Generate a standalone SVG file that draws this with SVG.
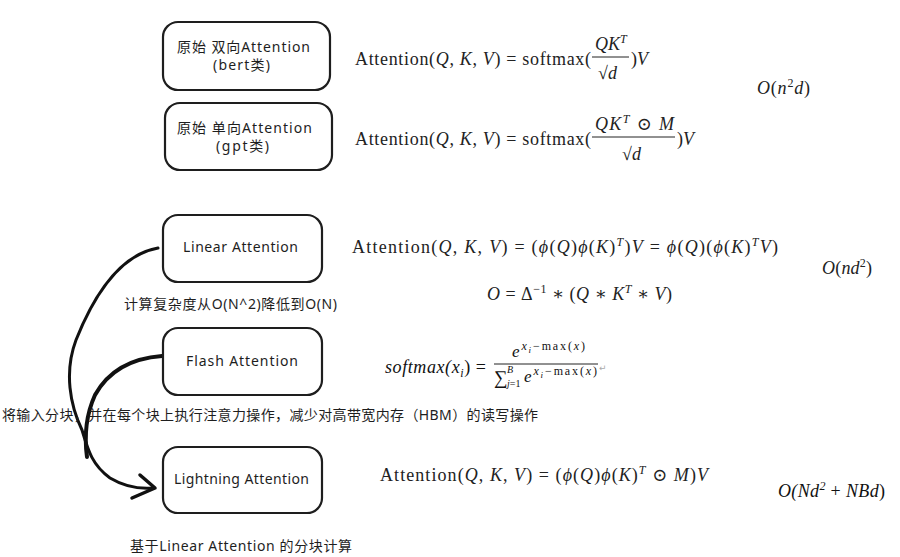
<svg xmlns="http://www.w3.org/2000/svg" width="900" height="557" viewBox="0 0 900 557">
<style>
.box{fill:#fff;stroke:#1e1e1e;stroke-width:2.2}
.lbl{font-family:"Noto Sans","Noto Sans CJK SC",sans-serif;font-size:14px;fill:#1e1e1e}
.note{font-family:"Noto Sans","Noto Sans CJK SC",sans-serif;font-size:14px;fill:#1e1e1e}
.m{font-family:"Liberation Serif","DejaVu Serif",serif;font-size:18px;fill:#222}
.i{font-style:italic}
.sup{font-size:12px}
.c{font-family:"Liberation Serif","DejaVu Serif",serif;fill:#111;font-style:italic}
.fl{stroke:#222;stroke-width:1}
.con{fill:none;stroke:#111;stroke-linecap:round;stroke-linejoin:round}
</style>
<rect width="900" height="557" fill="#fff"/>

<g id="connectors">
<path class="con" stroke-width="3" d="M158,248 C118,255 92,300 76,340 C64,372 70,405 82,430 C88,450 92,465 110,478 C125,487 140,489 153,488"/>
<path class="con" stroke-width="4" d="M162,356 C135,358 110,368 95,395 C86,415 84,435 87,457"/>
<path class="con" stroke-width="3.5" d="M140,475 L155,488 L132,498"/>
</g>

<g id="node-bert">
<rect class="box" x="163" y="22" width="167" height="68" rx="15"/>
<text class="lbl" x="177" y="52" textLength="133" lengthAdjust="spacing">原始 双向Attention</text>
<text class="lbl" x="213" y="70" textLength="57" lengthAdjust="spacing">(bert类)</text>
</g>
<g id="node-gpt">
<rect class="box" x="165" y="103" width="167" height="67" rx="15"/>
<text class="lbl" x="177" y="133" textLength="135" lengthAdjust="spacing">原始 单向Attention</text>
<text class="lbl" x="216" y="151" textLength="53" lengthAdjust="spacing">(gpt类)</text>
</g>
<g id="node-linear">
<rect class="box" x="163" y="215" width="159" height="67" rx="15"/>
<text class="lbl" x="183" y="252" textLength="115" lengthAdjust="spacing">Linear Attention</text>
</g>
<g id="node-flash">
<rect class="box" x="163" y="328" width="159" height="67" rx="15"/>
<text class="lbl" x="186" y="366" textLength="112" lengthAdjust="spacing">Flash Attention</text>
</g>
<g id="node-lightning">
<rect class="box" x="163" y="447" width="159" height="66" rx="15"/>
<text class="lbl" x="174" y="484" textLength="135" lengthAdjust="spacing">Lightning Attention</text>
</g>

<g id="notes">
<text class="note" x="124" y="309" textLength="213" lengthAdjust="spacing">计算复杂度从O(N^2)降低到O(N)</text>
<text class="note" x="2" y="420" textLength="536" lengthAdjust="spacing">将输入分块，并在每个块上执行注意力操作，减少对高带宽内存（HBM）的读写操作</text>
<text class="note" x="130" y="551" textLength="222" lengthAdjust="spacing">基于Linear Attention 的分块计算</text>
</g>

<g id="formula-bert">
<text class="m" x="355" y="65" textLength="236" lengthAdjust="spacing">Attention(<tspan class="i">Q</tspan>, <tspan class="i">K</tspan>, <tspan class="i">V</tspan>) = softmax(</text>
<text class="m" x="595" y="50"><tspan class="i">QK</tspan><tspan class="sup i" dy="-7">T</tspan></text>
<line class="fl" x1="592" y1="57" x2="629" y2="57"/>
<text class="m" x="598" y="79">√<tspan class="i">d</tspan></text>
<text class="m" x="631" y="65">)<tspan class="i">V</tspan></text>
<text class="m" x="757" y="94" textLength="53" lengthAdjust="spacing"><tspan class="i">O</tspan>(<tspan class="i">n</tspan><tspan class="sup" dy="-7">2</tspan><tspan class="i" dy="7">d</tspan>)</text>
</g>

<g id="formula-gpt">
<text class="m" x="355" y="145" textLength="236" lengthAdjust="spacing">Attention(<tspan class="i">Q</tspan>, <tspan class="i">K</tspan>, <tspan class="i">V</tspan>) = softmax(</text>
<text class="m" x="595" y="130" textLength="79" lengthAdjust="spacing"><tspan class="i">QK</tspan><tspan class="sup i" dy="-7">T</tspan><tspan dy="7"> ⊙ </tspan><tspan class="i">M</tspan></text>
<line class="fl" x1="592" y1="137" x2="675" y2="137"/>
<text class="m" x="622" y="160">√<tspan class="i">d</tspan></text>
<text class="m" x="677" y="145">)<tspan class="i">V</tspan></text>
</g>

<g id="formula-linear">
<text class="m" x="352" y="253" textLength="426" lengthAdjust="spacing">Attention(<tspan class="i">Q</tspan>, <tspan class="i">K</tspan>, <tspan class="i">V</tspan>) = (<tspan class="i">ϕ</tspan>(<tspan class="i">Q</tspan>)<tspan class="i">ϕ</tspan>(<tspan class="i">K</tspan>)<tspan class="sup i" dy="-7">T</tspan><tspan dy="7">)</tspan><tspan class="i">V</tspan> = <tspan class="i">ϕ</tspan>(<tspan class="i">Q</tspan>)(<tspan class="i">ϕ</tspan>(<tspan class="i">K</tspan>)<tspan class="sup i" dy="-7">T</tspan><tspan class="i" dy="7">V</tspan>)</text>
<text class="m" x="487" y="300" textLength="185" lengthAdjust="spacing"><tspan class="i">O</tspan> = Δ<tspan class="sup" dy="-7">−1</tspan><tspan dy="7"> ∗ (</tspan><tspan class="i">Q</tspan> ∗ <tspan class="i">K</tspan><tspan class="sup i" dy="-7">T</tspan><tspan dy="7"> ∗ </tspan><tspan class="i">V</tspan>)</text>
<text class="m" x="822" y="274" textLength="50" lengthAdjust="spacing"><tspan class="i">O</tspan>(<tspan class="i">nd</tspan><tspan class="sup" dy="-7">2</tspan><tspan dy="7">)</tspan></text>
</g>

<g id="formula-flash">
<text class="c" x="385" y="373" style="font-size:18px" textLength="101" lengthAdjust="spacing">softmax(x<tspan style="font-size:12px" dy="4">i</tspan><tspan dy="-4" font-style="normal">) =</tspan></text>
<text class="c" x="512" y="357" style="font-size:17px" textLength="73" lengthAdjust="spacing">e<tspan style="font-size:12px" dy="-7">x<tspan style="font-size:9px" dy="3">i</tspan><tspan dy="-3" font-style="normal">−max(</tspan>x<tspan font-style="normal">)</tspan></tspan></text>
<line class="fl" x1="494" y1="364" x2="598" y2="364"/>
<text x="494" y="384" style="font-family:'Liberation Serif','DejaVu Serif',serif;font-size:19px;fill:#111">∑</text>
<text class="c" x="507" y="373" style="font-size:10px">B</text>
<text class="c" x="507" y="387" style="font-size:10px">j<tspan font-style="normal">=1</tspan></text>
<text class="c" x="524" y="382" style="font-size:17px" textLength="73" lengthAdjust="spacing">e<tspan style="font-size:12px" dy="-7">x<tspan style="font-size:9px" dy="3">i</tspan><tspan dy="-3" font-style="normal">−max(</tspan>x<tspan font-style="normal">)</tspan></tspan></text>
<text x="599" y="371" style="font-family:'DejaVu Sans',sans-serif;font-size:9px;fill:#aaa">↵</text>
</g>

<g id="formula-lightning">
<text class="m" x="380" y="481" textLength="328" lengthAdjust="spacing">Attention(<tspan class="i">Q</tspan>, <tspan class="i">K</tspan>, <tspan class="i">V</tspan>) = (<tspan class="i">ϕ</tspan>(<tspan class="i">Q</tspan>)<tspan class="i">ϕ</tspan>(<tspan class="i">K</tspan>)<tspan class="sup i" dy="-7">T</tspan><tspan dy="7"> ⊙ </tspan><tspan class="i">M</tspan>)<tspan class="i">V</tspan></text>
<text class="c" x="778" y="497" style="font-size:18px" textLength="107" lengthAdjust="spacing">O(Nd<tspan style="font-size:12px" dy="-7">2</tspan><tspan dy="7" font-style="normal"> + </tspan>NBd<tspan font-style="normal">)</tspan></text>
</g>
</svg>
